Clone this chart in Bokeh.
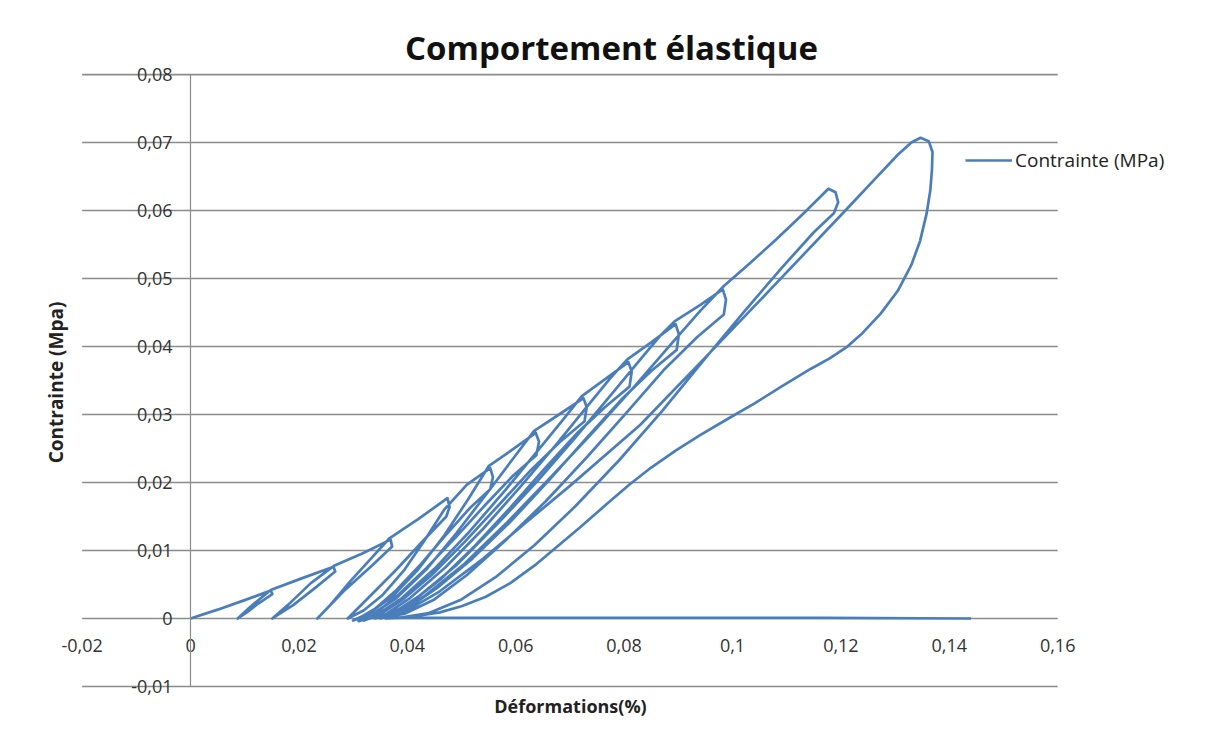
import math
from bokeh.plotting import figure
from bokeh.models import LinearAxis, FixedTicker, Label, Legend, LegendItem
from bokeh.embed import file_html
from bokeh.resources import INLINE

# ---- data: loading / unloading cycles (strain %, stress MPa) ----
c1_x = [0.0000, 0.0050, 0.0100, 0.0148, 0.0151, 0.0125, 0.0104, 0.0087]
c1_y = [0.0000, 0.0013, 0.0027, 0.0041, 0.0036, 0.0022, 0.0009, 0.0000]

c2_x = [0.0110, 0.0148, 0.0205, 0.0264, 0.0267, 0.0230, 0.0190, 0.0151]
c2_y = [0.0017, 0.0042, 0.0059, 0.0076, 0.0069, 0.0045, 0.0020, 0.0000]

c3_x = [0.0180, 0.0222, 0.0266, 0.0318, 0.0369, 0.0372, 0.0335, 0.0285, 0.0234]
c3_y = [0.0020, 0.0052, 0.0078, 0.0096, 0.0116, 0.0106, 0.0078, 0.0042, 0.0000]

c4_x = [0.0258, 0.0295, 0.0335, 0.0367, 0.0420, 0.0474, 0.0478, 0.0472, 0.0430, 0.0380, 0.0330, 0.0290]
c4_y = [0.0020, 0.0055, 0.0090, 0.0118, 0.0146, 0.0177, 0.0164, 0.0150, 0.0115, 0.0072, 0.0032, 0.0000]

c5_x = [0.0320, 0.0355, 0.0395, 0.0432, 0.0468, 0.0510, 0.0553,
        0.0558, 0.0553, 0.0515, 0.0470, 0.0425, 0.0380, 0.0340, 0.0310, 0.0300]
c5_y = [0.0012, 0.0035, 0.0072, 0.0115, 0.0160, 0.0197, 0.0221,
        0.0208, 0.0190, 0.0162, 0.0122, 0.0080, 0.0042, 0.0014, 0.0000, -0.0003]

c6_x = [0.0330, 0.0372, 0.0420, 0.0468, 0.0512, 0.0550, 0.0595, 0.0637,
        0.0643, 0.0638, 0.0595, 0.0545, 0.0490, 0.0435, 0.0385, 0.0345, 0.0318, 0.0310]
c6_y = [0.0008, 0.0032, 0.0072, 0.0122, 0.0175, 0.0224, 0.0249, 0.0273,
        0.0260, 0.0240, 0.0210, 0.0168, 0.0120, 0.0074, 0.0036, 0.0010, -0.0002, -0.0004]

c7_x = [0.0335, 0.0380, 0.0435, 0.0490, 0.0545, 0.0595, 0.0634, 0.0680, 0.0725,
        0.0731, 0.0727, 0.0682, 0.0630, 0.0570, 0.0505, 0.0445, 0.0392, 0.0350, 0.0320]
c7_y = [0.0006, 0.0030, 0.0072, 0.0125, 0.0182, 0.0235, 0.0276, 0.0300, 0.0324,
        0.0311, 0.0290, 0.0260, 0.0220, 0.0168, 0.0112, 0.0064, 0.0028, 0.0006, -0.0003]

c8_x = [0.0345, 0.0390, 0.0450, 0.0515, 0.0580, 0.0640, 0.0690, 0.0722, 0.0765, 0.0808,
        0.0814, 0.0810, 0.0765, 0.0715, 0.0655, 0.0590, 0.0525, 0.0462, 0.0405, 0.0360, 0.0330]
c8_y = [0.0006, 0.0030, 0.0073, 0.0128, 0.0188, 0.0246, 0.0295, 0.0327, 0.0352, 0.0377,
        0.0363, 0.0341, 0.0311, 0.0274, 0.0222, 0.0163, 0.0107, 0.0058, 0.0022, 0.0004, 0.0000]

c9_x = [0.0360, 0.0405, 0.0470, 0.0540, 0.0610, 0.0675, 0.0730, 0.0775, 0.0806, 0.0850, 0.0895,
        0.0901, 0.0897, 0.0850, 0.0795, 0.0730, 0.0660, 0.0590, 0.0520, 0.0455, 0.0400, 0.0355, 0.0340]
c9_y = [0.0006, 0.0030, 0.0075, 0.0132, 0.0195, 0.0256, 0.0310, 0.0354, 0.0381, 0.0406, 0.0433,
        0.0418, 0.0395, 0.0364, 0.0322, 0.0265, 0.0202, 0.0142, 0.0088, 0.0045, 0.0015, 0.0002, 0.0000]

c10_x = [0.0370, 0.0420, 0.0490, 0.0565, 0.0640, 0.0710, 0.0775, 0.0830, 0.0868, 0.0893, 0.0940, 0.0982,
         0.0988, 0.0984, 0.0935, 0.0875, 0.0805, 0.0730, 0.0655, 0.0580, 0.0510, 0.0450, 0.0395, 0.0350]
c10_y = [0.0006, 0.0032, 0.0078, 0.0138, 0.0202, 0.0266, 0.0328, 0.0381, 0.0417, 0.0437, 0.0461, 0.0484,
         0.0469, 0.0447, 0.0414, 0.0367, 0.0303, 0.0236, 0.0172, 0.0114, 0.0064, 0.0028, 0.0007, 0.0000]

c11_x = [0.0380, 0.0430, 0.0505, 0.0585, 0.0665, 0.0745, 0.0820, 0.0885, 0.0940, 0.0984, 0.1030,
         0.1080, 0.1130, 0.1177, 0.1190, 0.1195, 0.1187, 0.1150, 0.1090, 0.1020, 0.0950, 0.0870,
         0.0790, 0.0710, 0.0635, 0.0565, 0.0500, 0.0440, 0.0385, 0.0360]
c11_y = [0.0006, 0.0032, 0.0080, 0.0142, 0.0208, 0.0276, 0.0342, 0.0402, 0.0452, 0.0489, 0.0521,
         0.0557, 0.0595, 0.0632, 0.0627, 0.0612, 0.0596, 0.0568, 0.0515, 0.0450, 0.0383, 0.0305,
         0.0232, 0.0165, 0.0108, 0.0062, 0.0028, 0.0008, 0.0001, 0.0000]

c12_x = [0.0400, 0.0460, 0.0540, 0.0620, 0.0700, 0.0830, 0.0950, 0.1070, 0.1213, 0.1260, 0.1305,
         0.1330, 0.1347, 0.1362, 0.1369, 0.1368, 0.1365, 0.1358, 0.1346, 0.1330, 0.1305, 0.1273,
         0.1240, 0.1212, 0.1180, 0.1144, 0.1090, 0.1040, 0.0990, 0.0941, 0.0895, 0.0850, 0.0810,
         0.0769, 0.0720, 0.0680, 0.0635, 0.0590, 0.0545, 0.0500, 0.0460, 0.0420, 0.0380, 0.1170, 0.1440]
c12_y = [0.0012, 0.0040, 0.0088, 0.0142, 0.0195, 0.0285, 0.0384, 0.0484, 0.0604, 0.0644, 0.0682,
         0.0700, 0.0707, 0.0702, 0.0686, 0.0660, 0.0630, 0.0595, 0.0555, 0.0520, 0.0482, 0.0448,
         0.0420, 0.0400, 0.0383, 0.0367, 0.0341, 0.0316, 0.0293, 0.0270, 0.0247, 0.0222, 0.0197,
         0.0169, 0.0135, 0.0108, 0.0078, 0.0052, 0.0032, 0.0018, 0.0009, 0.0004, 0.0001, 0.0001, 0.0000]

x_ticks = [-0.02, 0, 0.02, 0.04, 0.06, 0.08, 0.1, 0.12, 0.14, 0.16]
x_tick_labels = ["-0,02", "0", "0,02", "0,04", "0,06", "0,08", "0,1", "0,12", "0,14", "0,16"]
y_ticks = [-0.01, 0, 0.01, 0.02, 0.03, 0.04, 0.05, 0.06, 0.07, 0.08]
y_tick_labels = ["-0,01", "0", "0,01", "0,02", "0,03", "0,04", "0,05", "0,06", "0,07", "0,08"]

strain = c1_x + c2_x + c3_x + c4_x + c5_x + c6_x + c7_x + c8_x + c9_x + c10_x + c11_x + c12_x
stress = c1_y + c2_y + c3_y + c4_y + c5_y + c6_y + c7_y + c8_y + c9_y + c10_y + c11_y + c12_y

FONT = "Open Sans"
GRID = "#8c8c8c"
BLUE = "#4a7ebb"

# the frame is a little larger than the tick span so that texts are not clipped
p = figure(width=1213, height=745,
           x_range=(-0.03137, 0.18727), y_range=(-0.01765, 0.08824),
           output_backend="svg", toolbar_location=None, title=None,
           x_axis_type=None, y_axis_type=None,
           min_border_left=20, min_border_right=8, min_border_top=18, min_border_bottom=7)
p.outline_line_color = None
p.background_fill_color = "white"
p.border_fill_color = "white"
p.xgrid.visible = False
p.ygrid.visible = False

# horizontal gridlines spanning the tick range
n = len(y_ticks)
p.segment(x0=[x_ticks[0]] * n, x1=[x_ticks[-1]] * n, y0=y_ticks, y1=y_ticks,
          line_color=GRID, line_width=1.7, level="underlay")

yaxis = LinearAxis(fixed_location=0, ticker=FixedTicker(ticks=y_ticks),
                   bounds=(y_ticks[0], y_ticks[-1]),
                   major_label_overrides=dict(zip(y_ticks, y_tick_labels)),
                   axis_line_color=GRID, axis_line_width=1.2,
                   major_tick_line_color=None, minor_tick_line_color=None,
                   major_label_standoff=12,
                   major_label_text_font=FONT, major_label_text_font_size="18px",
                   major_label_text_color="#333333")
p.add_layout(yaxis, "left")

xaxis = LinearAxis(fixed_location=0, ticker=FixedTicker(ticks=x_ticks),
                   major_label_overrides=dict(zip(x_ticks, x_tick_labels)),
                   axis_line_color=None,
                   major_tick_line_color=None, minor_tick_line_color=None,
                   major_label_standoff=15,
                   major_label_text_font=FONT, major_label_text_font_size="18px",
                   major_label_text_color="#333333")
p.add_layout(xaxis, "below")

r = p.line(strain, stress, line_color=BLUE, line_width=2.7, line_join="round")

# titles (screen units, relative to the frame's bottom-left corner)
p.add_layout(Label(x=591, y=691, x_units="screen", y_units="screen",
                   text="Comportement élastique", text_align="center", text_baseline="middle",
                   text_font=FONT, text_font_size="33px", text_font_style="bold",
                   text_color="#111111"))
p.add_layout(Label(x=550, y=33, x_units="screen", y_units="screen",
                   text="Déformations(%)", text_align="center", text_baseline="middle",
                   text_font=FONT, text_font_size="18px", text_font_style="bold",
                   text_color="#222222"))
p.add_layout(Label(x=35, y=356, x_units="screen", y_units="screen", angle=math.pi / 2,
                   text="Contrainte (Mpa)", text_align="center", text_baseline="middle",
                   text_font=FONT, text_font_size="19px", text_font_style="bold",
                   text_color="#222222"))

legend = Legend(items=[LegendItem(label="Contrainte (MPa)", renderers=[r])],
                location=(945, 565), padding=0, margin=0, spacing=0,
                glyph_width=47, glyph_height=20, label_standoff=3,
                background_fill_alpha=0, border_line_color=None,
                label_text_font=FONT, label_text_font_size="19px",
                label_text_color="#222222")
p.add_layout(legend)

open("out.html", "w").write(file_html(p, INLINE))
